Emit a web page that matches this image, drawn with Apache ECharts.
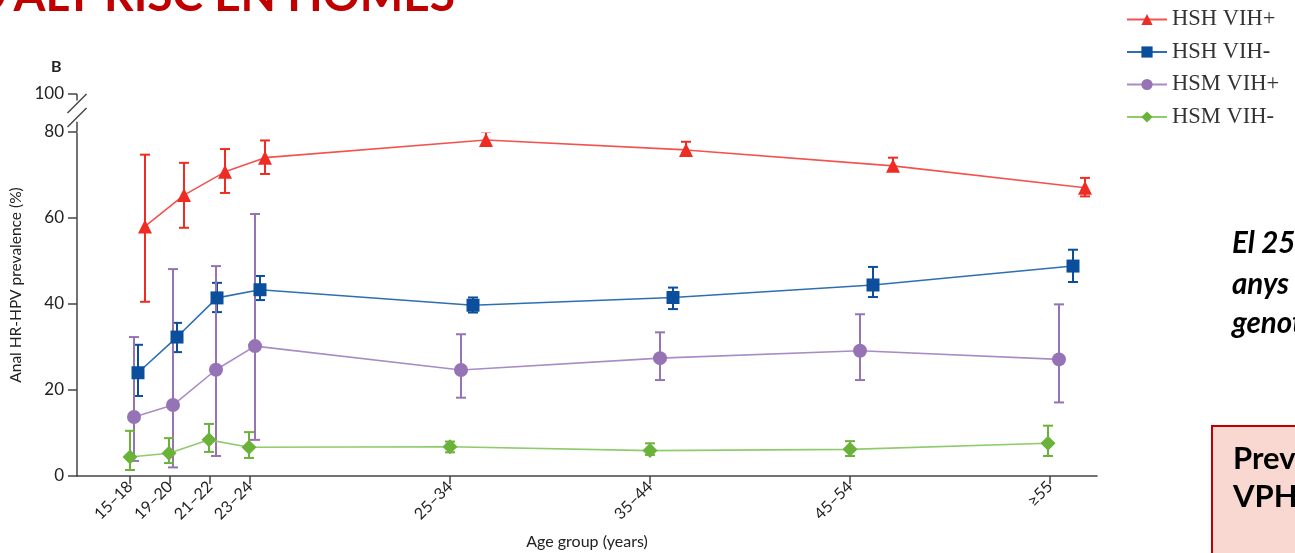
<!DOCTYPE html>
<html>
<head>
<meta charset="utf-8">
<script src="https://cdn.jsdelivr.net/npm/echarts@6/dist/echarts.min.js"></script>
<style>
  html, body { margin: 0; padding: 0; background: #fff; overflow: hidden; }
  #chart { width: 1295px; height: 553px; }
</style>
</head>
<body>
<div id="chart"></div>
<script>
// Age groups and the age (upper bound of each group) where the axis tick sits
const ageGroups = ['15–18', '19–20', '21–22', '23–24', '25–34', '35–44', '45–54', '≥55'];
const groupTickAge = [18, 20, 22, 24, 34, 44, 54, 64];
const yTicks = [0, 20, 40, 60, 80, 100];

const seriesNames = ['HSH VIH+', 'HSH VIH-', 'HSM VIH+', 'HSM VIH-'];

// Age at which each group's estimate is plotted, per series
const ageHshPos = [18.75, 20.7, 22.75, 24.75, 35.8, 45.8, 56.15, 65.75];
const ageHshNeg = [18.4, 20.35, 22.35, 24.5, 35.15, 45.15, 55.15, 65.15];
const ageHsmPos = [18.2, 20.15, 22.3, 24.25, 34.55, 44.5, 54.5, 64.45];
const ageHsmNeg = [18.0, 19.95, 21.95, 23.95, 34.0, 44.0, 54.0, 63.9];

// Anal HR-HPV prevalence (%) with 95% CI
const hshPos     = [58.0, 65.3, 70.7, 74.0, 78.1, 75.8, 72.1, 67.0];
const hshPosLow  = [40.5, 57.7, 65.8, 70.2, 77.2, 75.0, 71.2, 65.0];
const hshPosHigh = [74.7, 72.8, 76.0, 78.0, 80.0, 77.7, 74.0, 69.3];

const hshNeg     = [24.0, 32.3, 41.4, 43.3, 39.7, 41.5, 44.4, 48.8];
const hshNegLow  = [18.6, 28.8, 38.1, 40.9, 38.0, 38.8, 41.6, 45.1];
const hshNegHigh = [30.5, 35.6, 44.9, 46.5, 41.5, 43.8, 48.6, 52.6];

const hsmPos     = [13.7, 16.5, 24.7, 30.2, 24.65, 27.4, 29.1, 27.1];
const hsmPosLow  = [3.5, 2.0, 4.65, 8.4, 18.2, 22.3, 22.3, 17.1];
const hsmPosHigh = [32.3, 48.1, 48.8, 60.9, 32.95, 33.4, 37.6, 39.9];

const hsmNeg     = [4.4, 5.3, 8.4, 6.7, 6.8, 5.9, 6.2, 7.6];
const hsmNegLow  = [1.4, 3.0, 5.6, 4.2, 5.5, 4.9, 4.65, 4.65];
const hsmNegHigh = [10.5, 8.8, 12.1, 10.2, 8.0, 7.6, 8.1, 11.7];

const groups = [
  { name: seriesNames[0], age: ageHshPos, val: hshPos, lo: hshPosLow, hi: hshPosHigh,
    mark: '#ee2c24', line: '#f2534e', symbol: 'triangle', size: 14 },
  { name: seriesNames[1], age: ageHshNeg, val: hshNeg, lo: hshNegLow, hi: hshNegHigh,
    mark: '#0b4e9b', line: '#2f6fb1', symbol: 'rect', size: 13 },
  { name: seriesNames[2], age: ageHsmPos, val: hsmPos, lo: hsmPosLow, hi: hsmPosHigh,
    mark: '#9673b5', line: '#a98cc6', symbol: 'circle', size: 14 },
  { name: seriesNames[3], age: ageHsmNeg, val: hsmNeg, lo: hsmNegLow, hi: hsmNegHigh,
    mark: '#6ab23a', line: '#8fcb6c', symbol: 'diamond', size: 15 }
];

const textColor = '#222';
const axisColor = '#444';
const uiFont = 'Lato, "Open Sans", sans-serif';

function errorBarSeries(g) {
  return {
    type: 'custom',
    name: g.name + ' IC',
    z: 1,
    silent: true,
    encode: { x: 0, y: [1, 2] },
    data: g.age.map((a, i) => [a, g.lo[i], g.hi[i]]),
    renderItem(params, api) {
      const x = api.value(0);
      const pLo = api.coord([x, api.value(1)]);
      const pHi = api.coord([x, api.value(2)]);
      const w = 5;
      const st = { stroke: g.mark, lineWidth: 2 };
      return {
        type: 'group',
        children: [
          { type: 'line', shape: { x1: pLo[0], y1: pLo[1], x2: pHi[0], y2: pHi[1] }, style: st },
          { type: 'line', shape: { x1: pLo[0] - w, y1: pLo[1], x2: pLo[0] + w, y2: pLo[1] }, style: st },
          { type: 'line', shape: { x1: pHi[0] - w, y1: pHi[1], x2: pHi[0] + w, y2: pHi[1] }, style: st }
        ]
      };
    }
  };
}

function lineSeries(g) {
  return {
    type: 'line',
    name: g.name,
    z: 3,
    data: g.age.map((a, i) => [a, g.val[i]]),
    symbol: g.symbol,
    symbolSize: g.size,
    showAllSymbol: true,
    lineStyle: { color: g.line, width: 1.6 },
    itemStyle: { color: g.mark },
    emphasis: { disabled: true }
  };
}

const chart = echarts.init(document.getElementById('chart'), null, { renderer: 'canvas' });

const boldFont = size => 'bold ' + size + 'px Lato, "Open Sans", sans-serif';
const italicBoldFont = size => 'italic bold ' + size + 'px Lato, "Open Sans", sans-serif';

const baseGraphic = [
  { type: 'text', x: 455, y: -4, silent: true,
    style: { text: "VPH D'ALT RISC EN HOMES", fill: '#c00000', font: boldFont(46),
             align: 'right', verticalAlign: 'middle' } },
  { type: 'text', x: 51, y: 67, silent: true,
    style: { text: 'B', fill: '#222', font: boldFont(16), verticalAlign: 'middle' } },
  { type: 'text', x: 1232, y: 243, silent: true,
    style: { text: 'El 25% dels homes de 15–18', fill: '#000', font: italicBoldFont(29.5), verticalAlign: 'middle' } },
  { type: 'text', x: 1232, y: 284, silent: true,
    style: { text: 'anys tenen VPH', fill: '#000', font: italicBoldFont(29.5), verticalAlign: 'middle' } },
  { type: 'text', x: 1232, y: 323, silent: true,
    style: { text: "genotips d'alt risc", fill: '#000', font: italicBoldFont(29.5), verticalAlign: 'middle' } },
  { type: 'rect', shape: { x: 1212, y: 426, width: 200, height: 200 }, silent: true,
    style: { fill: '#f8d8d0', stroke: '#c00000', lineWidth: 2 } },
  { type: 'text', x: 1233, y: 459, silent: true,
    style: { text: 'Prevalença', fill: '#000', font: boldFont(31), verticalAlign: 'middle' } },
  { type: 'text', x: 1233, y: 497, silent: true,
    style: { text: 'VPH anal', fill: '#000', font: boldFont(31), verticalAlign: 'middle' } }
];

const option = {
  animation: false,
  backgroundColor: '#fff',
  grid: { left: 77, right: 198, top: 94, bottom: 77, outerBoundsMode: 'none' },
  legend: {
    data: seriesNames,
    orient: 'vertical',
    left: 1121,
    top: 3,
    itemWidth: 40,
    itemHeight: 14,
    itemGap: 9.5,
    selectedMode: false,
    textStyle: { fontFamily: '"Liberation Serif", "DejaVu Serif", serif', fontSize: 22.5, color: '#333' }
  },
  xAxis: {
    type: 'value',
    min: 15.35,
    max: 66.35,
    name: 'Age group (years)',
    nameLocation: 'middle',
    nameGap: 58,
    nameTextStyle: { fontFamily: uiFont, fontSize: 16, color: textColor },
    axisLine: { show: true, onZero: false, lineStyle: { color: axisColor, width: 1.5 } },
    axisTick: { show: true, customValues: groupTickAge, length: 8, lineStyle: { color: axisColor, width: 1.5 } },
    axisLabel: {
      customValues: groupTickAge,
      rotate: 45,
      margin: 8,
      fontFamily: uiFont,
      fontSize: 16,
      color: textColor,
      formatter: v => ageGroups[groupTickAge.indexOf(v)] || ''
    },
    splitLine: { show: false }
  },
  yAxis: {
    type: 'value',
    min: 0,
    max: 100,
    interval: 20,
    breaks: [{ start: 80, end: 100, gap: 8.8 }],
    breakArea: {
      show: true,
      expandOnClick: false,
      zigzagAmplitude: 0,
      itemStyle: { color: '#fff', borderColor: '#fff', borderWidth: 0, opacity: 1 }
    },
    name: 'Anal HR-HPV prevalence (%)',
    nameLocation: 'middle',
    nameGap: 52,
    nameRotate: 90,
    nameTextStyle: { fontFamily: uiFont, fontSize: 15.5, color: textColor },
    axisLine: { show: true, lineStyle: { color: axisColor, width: 1.5 } },
    axisTick: { show: true, length: 9, lineStyle: { color: axisColor, width: 1.5 } },
    axisLabel: { fontFamily: uiFont, fontSize: 17, color: textColor, margin: 13,
      formatter: v => (yTicks.indexOf(v) >= 0 ? String(v) : '') },
    splitLine: { show: false }
  },
  series: [
    ...groups.map(errorBarSeries),
    ...groups.map(lineSeries)
  ],
  graphic: baseGraphic
};

chart.setOption(option);

// Axis-break marks: stubs of the axis line on both sides of the break,
// and two short slashes between them
const axisX = chart.convertToPixel({ xAxisIndex: 0 }, 15.35);
const y80 = chart.convertToPixel({ yAxisIndex: 0 }, 80);
const y100 = chart.convertToPixel({ yAxisIndex: 0 }, 100);
const span = y80 - y100;
const breakStroke = { stroke: axisColor, lineWidth: 1.5 };
const slash = f => {
  const cy = y100 + span * f;
  return { type: 'line', silent: true, z: 300,
    shape: { x1: axisX - 9.5, y1: cy + 9.5, x2: axisX + 9.5, y2: cy - 9.5 },
    style: breakStroke };
};
const breakMarks = [
  { type: 'line', silent: true, z: 300,
    shape: { x1: axisX, y1: y80, x2: axisX, y2: y80 - span * 0.27 }, style: breakStroke },
  { type: 'line', silent: true, z: 300,
    shape: { x1: axisX, y1: y100, x2: axisX, y2: y100 + span * 0.17 }, style: breakStroke },
  slash(0.25),
  slash(0.62)
];
chart.setOption({ graphic: baseGraphic.concat(breakMarks) });
</script>
</body>
</html>
